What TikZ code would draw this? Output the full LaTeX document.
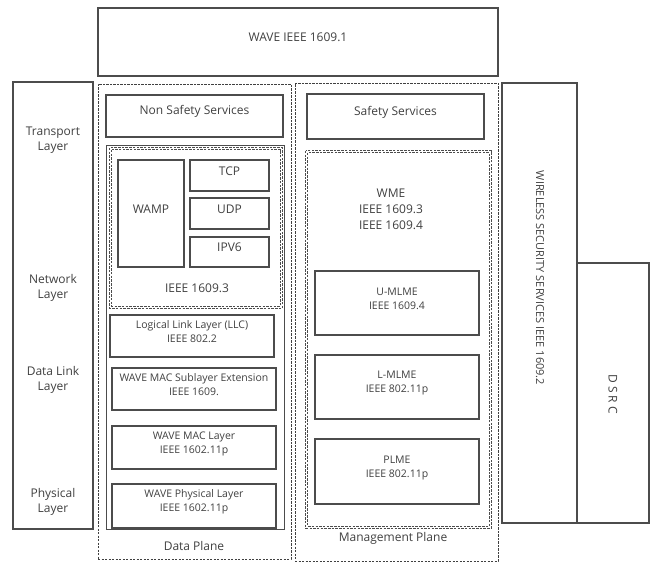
\documentclass[tikz,border=0pt]{standalone}
\usepackage{fontspec}
\setmainfont{Open Sans}
\usetikzlibrary{fit}
\begin{document}
\begin{tikzpicture}[x=1pt,y=-1pt,
  every node/.style={font=\fontsize{12}{15}\selectfont, text=black!75},
  small/.style={font=\fontsize{10.5}{14}\selectfont},
  box/.style={draw=black!70, line width=1.1pt, inner sep=0pt, align=center},
  plane/.style={draw=black!75, line width=1pt, dash pattern=on 2.2pt off 1.3pt, inner sep=0pt},
  dbl/.style={inner sep=0pt},
  dline/.style={draw=black!70, line width=0.75pt, dash pattern=on 2.5pt off 1.2pt},
  lbl/.style={align=center, inner sep=1pt}]
\useasboundingbox (0,0) rectangle (653,562);
% top
\node[box, fit={(98,8) (498,76)}] (wave) {WAVE IEEE 1609.1};
% layer column
\node[box, fit={(13,82) (93,529)}] (layers) {};
\node[lbl] (transport) at (53,140) {Transport\\Layer};
\node[lbl] (network) at (53,288) {Network\\Layer};
\node[lbl] (datalink) at (53,380) {Data Link\\Layer};
\node[lbl] (physical) at (53,502) {Physical\\Layer};
% data plane
\node[plane, fit={(98,84) (291,559)}] (dataplane) {};
\node[lbl] (dplabel) at (194,546) {Data Plane};
\node[box, fit={(106,95) (283,137)}] (nonsafe) {Non Safety Services};
\node[box, line width=0.8pt, fit={(106,145) (284,529)}] (netouter) {};
\node[dbl, fit={(110,148) (282,308)}] (ieee3) {};
\draw[dline] (ieee3.north west) rectangle (ieee3.south east);
\draw[dline] ([shift={(2,2)}]ieee3.north west) rectangle ([shift={(-2,-2)}]ieee3.south east);
\node[lbl] (ieee3lbl) at (197,288) {IEEE 1609.3};
\node[box, fit={(118,160) (184,267)}] (wamp) {WAMP};
\node[box, fit={(190,160) (269,191)}] (tcp) {TCP};
\node[box, fit={(190,198) (269,229)}] (udp) {UDP};
\node[box, fit={(190,237) (269,267)}] (ipv6) {IPV6};
\node[box, small, fit={(110,315) (274,357)}] (llc) {Logical Link Layer (LLC)\\IEEE 802.2};
\node[box, small, fit={(112,368) (276,410)}] (macext) {WAVE MAC Sublayer Extension\\IEEE 1609.};
\node[box, small, fit={(112,426) (276,469)}] (mac) {WAVE MAC Layer\\IEEE 1602.11p};
\node[box, small, fit={(112,484) (276,528)}] (phy) {WAVE Physical Layer\\IEEE 1602.11p};
% management plane
\node[plane, fit={(295,83) (498,561)}] (mgmt) {};
\node[lbl] (mglabel) at (393,538) {Management Plane};
\node[box, fit={(307,94) (484,139)}] (safe) {Safety Services};
\node[dbl, fit={(306,151) (491,528)}] (wme) {};
\draw[dline] (wme.north west) rectangle (wme.south east);
\draw[dline] ([shift={(2,2)}]wme.north west) rectangle ([shift={(-2,-2)}]wme.south east);
\node[lbl, font=\fontsize{12}{16}\selectfont] (wmelbl) at (391,209) {WME\\IEEE 1609.3\\IEEE 1609.4};
\node[box, small, fit={(315,271) (479,335)}] (umlme) {U-MLME\\IEEE 1609.4};
\node[box, small, fit={(315,355) (479,419)}] (lmlme) {L-MLME\\IEEE 802.11p};
\node[box, small, fit={(315,439) (479,504)}] (plme) {PLME\\IEEE 802.11p};
% security and DSRC
\node[box, fit={(502,83) (577,523)}] (wss) {};
\node[rotate=-90, anchor=center, inner sep=0pt, font=\fontsize{11}{13}\selectfont] (wsslbl) at (540,278) {WIRELESS SECURITY SERVICES IEEE 1609.2};
\node[box, fit={(577,263) (649,523)}] (dsrc) {};
\node[rotate=-90, anchor=center, inner sep=0pt, font=\fontsize{12}{14}\selectfont] (dsrclbl) at (613,394) {D S R C};
\end{tikzpicture}
\end{document}
